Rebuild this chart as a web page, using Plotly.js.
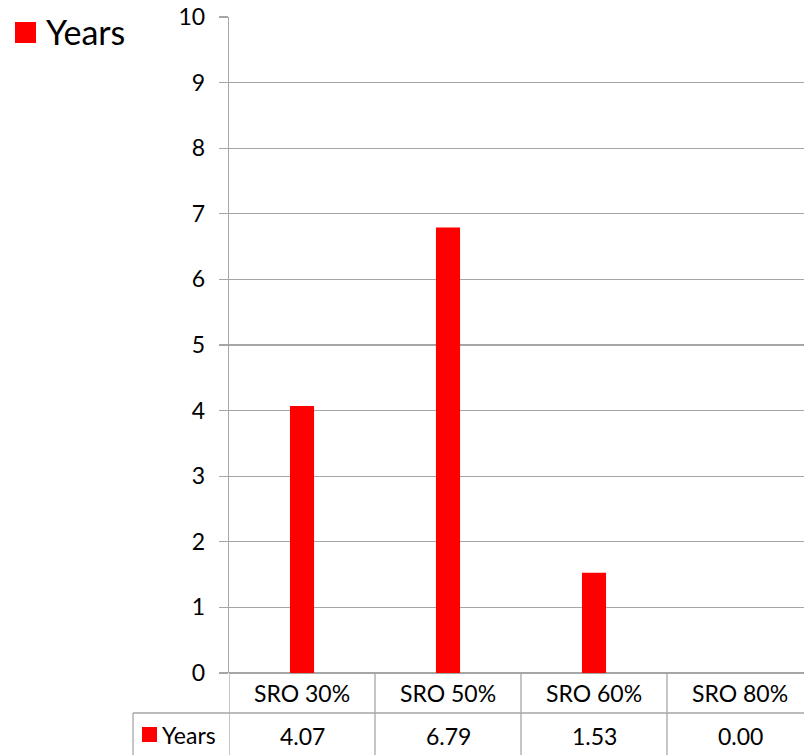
<!DOCTYPE html>
<html><head><meta charset="utf-8">
<script src="https://cdn.plot.ly/plotly-3.0.1.min.js"></script>
<style>html,body{margin:0;padding:0;overflow:hidden;background:#fff;}#chart{width:820px;height:755px;}</style>
</head><body><div id="chart"></div>
<script>
const categories = ["SRO 30%", "SRO 50%", "SRO 60%", "SRO 80%"];
const seriesName = "Years";
const years = [4.07, 6.79, 1.53, 0.00];
const yTicks = [0,1,2,3,4,5,6,7,8,9,10];

const RED = "#ff0000";
const GRID = "#a6a6a6";
const FONT = "Lato, 'Open Sans', sans-serif";
const H = 755, TOP = 17, BOT = 673;
const py = p => (BOT - p) / (BOT - TOP); // pixel y -> paper y
const pxL = 229, W = 820, R = 7;
const px = p => (p - pxL) / (W - R - pxL); // pixel x -> paper x

const shapes = [];
const annotations = [];
const ROW1 = 713, ROW2 = 755;
// vertical table lines at category boundaries
for (let i = 0; i <= categories.length; i++) {
  shapes.push({type:"line", xref:"x", yref:"paper", x0:i-0.5, x1:i-0.5, y0:0, y1:py(ROW2), line:{color:GRID, width:1.3}});
}
// horizontal lines
shapes.push({type:"line", xref:"paper", yref:"paper", x0:px(133), x1:1, y0:py(ROW1), y1:py(ROW1), line:{color:GRID, width:1.3}});
shapes.push({type:"line", xref:"paper", yref:"paper", x0:px(133), x1:px(133), y0:py(ROW1), y1:py(ROW2), line:{color:GRID, width:1.3}});
// table row key
shapes.push({type:"rect", xref:"paper", yref:"paper", x0:px(142), x1:px(157), y0:py(742), y1:py(727), fillcolor:RED, line:{width:0}});
annotations.push({xref:"paper", yref:"paper", x:px(160), y:py(735), xanchor:"left", yanchor:"middle", text:seriesName, showarrow:false, font:{family:FONT, size:23, color:"#000"}});
categories.forEach((c, i) => {
  annotations.push({xref:"x", yref:"paper", x:i, y:py(693), xanchor:"center", yanchor:"middle", text:c, showarrow:false, font:{family:FONT, size:23, color:"#000"}});
  annotations.push({xref:"x", yref:"paper", x:i, y:py(736), xanchor:"center", yanchor:"middle", text:years[i].toFixed(2), showarrow:false, font:{family:FONT, size:23, color:"#000"}});
});
// top-left legend
shapes.push({type:"rect", xref:"paper", yref:"paper", x0:px(15), x1:px(36), y0:py(43), y1:py(22), fillcolor:RED, line:{width:0}});
annotations.push({xref:"paper", yref:"paper", x:px(44), y:py(32), xanchor:"left", yanchor:"middle", text:seriesName, showarrow:false, font:{family:FONT, size:34, color:"#000"}});

const data = [{
  type:"bar", x:[0,1,2,3], y:years, name:seriesName, width:0.165,
  marker:{color:RED}, hoverinfo:"skip"
}];

const layout = {
  width: W, height: H,
  margin:{l:pxL, r:R, t:TOP, b:H-BOT, pad:0},
  paper_bgcolor:"#fff", plot_bgcolor:"#fff",
  showlegend:false,
  xaxis:{range:[-0.5, 3.5], showticklabels:false, showgrid:false, zeroline:false, showline:false, ticks:"", fixedrange:true},
  yaxis:{range:[0,10], tickvals:yTicks, ticktext:yTicks.map(String), showgrid:true, gridcolor:GRID, gridwidth:1.3,
    zeroline:true, zerolinecolor:GRID, zerolinewidth:1.3,
    showline:true, linecolor:GRID, linewidth:1.3, ticks:"outside", ticklen:9, tickcolor:GRID, tickwidth:1.3,
    tickfont:{family:FONT, size:23, color:"#000"}, ticklabelstandoff:9, fixedrange:true},
  shapes, annotations
};
Plotly.newPlot("chart", data, layout, {displayModeBar:false, staticPlot:true});
</script></body></html>
